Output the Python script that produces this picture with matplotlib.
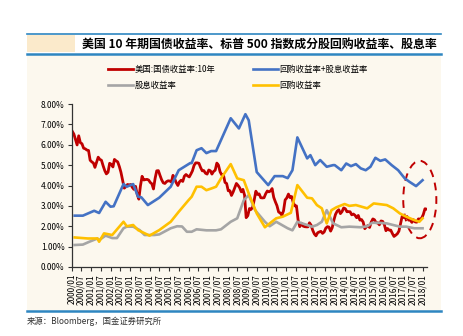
import numpy as np
import pandas as pd
import matplotlib
matplotlib.use('Agg')
import matplotlib.pyplot as plt
import matplotlib.dates as mdates
from matplotlib.patches import Rectangle, Ellipse
from matplotlib.lines import Line2D

plt.rcParams['font.family'] = ['Noto Sans CJK SC', 'DejaVu Sans']

# US 10y treasury yield, monthly, 2000/01 - 2018/03
treasury = [
    6.66, 6.52, 6.26, 5.99, 6.44, 6.10, 6.05, 5.83, 5.80, 5.74, 5.72, 5.24,
    5.16, 5.10, 4.89, 5.14, 5.39, 5.28, 5.24, 4.97, 4.73, 4.57, 4.65, 5.09,
    5.04, 4.91, 5.28, 5.21, 5.16, 4.93, 4.65, 4.26, 3.87, 3.94, 4.05, 4.03,
    4.05, 3.90, 3.81, 3.96, 3.57, 3.33, 3.98, 4.45, 4.27, 4.29, 4.30, 4.27,
    4.15, 4.08, 3.83, 4.35, 4.72, 4.73, 4.50, 4.28, 4.13, 4.10, 4.19, 4.23,
    4.22, 4.17, 4.50, 4.34, 4.14, 4.00, 4.18, 4.26, 4.20, 4.46, 4.54, 4.47,
    4.42, 4.57, 4.72, 4.99, 5.11, 5.11, 5.09, 4.88, 4.72, 4.73, 4.60, 4.56,
    4.76, 4.72, 4.56, 4.69, 4.75, 5.10, 5.00, 4.67, 4.52, 4.53, 4.15, 4.10,
    3.74, 3.74, 3.51, 3.68, 3.88, 4.10, 4.01, 3.89, 3.69, 3.81, 3.53, 2.42,
    2.52, 2.87, 2.82, 2.93, 3.29, 3.72, 3.56, 3.59, 3.40, 3.39, 3.40, 3.59,
    3.73, 3.69, 3.73, 3.85, 3.42, 3.20, 3.01, 2.70, 2.65, 2.54, 2.76, 3.29,
    3.39, 3.58, 3.41, 3.46, 3.17, 3.00, 3.00, 2.30, 1.98, 2.15, 2.01, 1.98,
    1.97, 1.97, 2.17, 2.05, 1.80, 1.62, 1.53, 1.68, 1.72, 1.75, 1.65, 1.72,
    1.91, 1.98, 1.96, 1.76, 1.93, 2.30, 2.58, 2.74, 2.81, 2.62, 2.72, 2.90,
    2.86, 2.71, 2.72, 2.71, 2.56, 2.60, 2.54, 2.42, 2.53, 2.30, 2.33, 2.21,
    1.88, 1.98, 2.04, 1.94, 2.20, 2.36, 2.32, 2.17, 2.17, 2.07, 2.26, 2.24,
    2.09, 1.78, 1.89, 1.81, 1.81, 1.64, 1.50, 1.56, 1.63, 1.76, 2.14, 2.49,
    2.43, 2.42, 2.48, 2.30, 2.30, 2.19, 2.32, 2.21, 2.20, 2.36, 2.35, 2.40,
    2.58, 2.86, 2.84,
]

# buyback + dividend yield
total_dates = ['2000-03', '2000-08', '2001-03', '2001-06', '2001-10', '2002-01',
               '2002-03', '2002-09', '2002-11', '2003-03', '2003-06', '2003-08',
               '2003-12', '2004-07', '2005-02', '2005-07', '2006-02', '2006-03',
               '2006-06', '2006-09', '2006-12', '2007-03', '2007-06', '2008-03',
               '2008-08', '2008-12', '2009-02', '2009-07', '2010-02', '2010-06',
               '2010-11', '2011-02', '2011-05', '2011-08', '2012-02', '2012-04',
               '2012-07', '2012-10', '2013-02', '2013-06', '2013-07', '2013-11',
               '2014-02', '2014-05', '2014-08', '2014-11', '2015-02', '2015-05',
               '2015-08', '2015-11', '2016-02', '2016-06', '2016-10', '2017-02',
               '2017-05', '2017-09', '2018-01']
total = [2.52, 2.52, 2.76, 2.65, 3.20, 2.96,
         2.98, 4.07, 3.94, 4.07, 3.45, 3.42,
         3.04, 3.40, 3.94, 4.75, 5.10, 5.10,
         5.73, 5.83, 5.59, 5.69, 5.69, 7.30,
         6.80, 7.50, 7.20, 4.66, 4.02, 4.46,
         4.46, 4.36, 4.75, 6.36, 5.33, 5.49,
         5.00, 5.25, 4.92, 5.00, 5.00, 4.75,
         5.08, 4.95, 5.05, 4.84, 4.75, 4.92,
         5.36, 5.21, 5.28, 5.00, 4.75, 4.35,
         4.18, 3.97, 4.26]

# dividend yield
div_dates = ['2000-03', '2000-08', '2000-12', '2001-05', '2001-06', '2001-10',
             '2002-02', '2002-05', '2002-09', '2002-11', '2003-03', '2003-07',
             '2003-10', '2004-04', '2004-07', '2005-02', '2005-06', '2005-09',
             '2005-12', '2006-03', '2006-06', '2006-12', '2007-06', '2007-09',
             '2008-03', '2008-07', '2008-11', '2009-02', '2009-06', '2009-12',
             '2010-03', '2010-07', '2011-02', '2011-05', '2011-08', '2012-02',
             '2012-05', '2012-08', '2012-11', '2013-02', '2013-04', '2013-06',
             '2013-11', '2014-04', '2014-11', '2015-03', '2015-06', '2015-10',
             '2016-03', '2016-07', '2016-11', '2017-03', '2017-08', '2018-01']
dividend = [1.08, 1.10, 1.24, 1.40, 1.32, 1.54,
            1.42, 1.42, 1.90, 1.98, 1.98, 1.81,
            1.57, 1.57, 1.60, 1.90, 2.00, 1.99,
            1.73, 1.73, 1.85, 1.80, 1.80, 1.85,
            2.22, 2.39, 3.28, 3.53, 2.79, 2.22,
            2.00, 2.22, 1.90, 1.80, 2.22, 2.06,
            1.98, 2.06, 2.22, 2.79, 2.47, 2.14,
            1.95, 1.98, 1.95, 2.00, 2.17, 2.17,
            2.14, 2.06, 1.98, 1.98, 1.90, 1.90]

# buyback yield
bb_dates = ['2000-03', '2000-11', '2001-05', '2001-06', '2001-09', '2002-02',
            '2002-09', '2002-11', '2003-03', '2003-06', '2004-01', '2004-07',
            '2005-02', '2005-07', '2006-01', '2006-03', '2006-06', '2006-09',
            '2006-12', '2007-03', '2007-06', '2007-09', '2008-03', '2008-07',
            '2008-11', '2009-02', '2009-07', '2009-12', '2010-03', '2010-07',
            '2010-11', '2011-04', '2011-08', '2012-02', '2012-05', '2012-08',
            '2012-11', '2013-02', '2013-05', '2013-08', '2014-01', '2014-04',
            '2014-08', '2015-03', '2015-07', '2016-03', '2016-07', '2016-11',
            '2017-03', '2017-08', '2017-11', '2018-01']
buyback = [1.45, 1.40, 1.40, 1.24, 1.65, 1.57,
           2.22, 2.00, 2.06, 1.81, 1.54, 1.81,
           2.22, 2.71, 3.28, 3.45, 3.94, 3.94,
           3.77, 3.85, 3.94, 4.35, 5.05, 4.35,
           4.26, 3.61, 2.63, 1.95, 2.14, 2.39,
           2.47, 2.66, 4.02, 3.40, 3.37, 3.04,
           2.88, 2.14, 2.79, 2.93, 3.09, 3.00,
           3.04, 2.88, 3.12, 3.04, 2.88, 2.63,
           2.47, 2.30, 2.22, 2.39]

labels = ['美国:国债收益率:10年', '回购收益率+股息收益率', '股息收益率', '回购收益率']
colors = ['#C00000', '#4472C4', '#A5A5A5', '#FFC000']

W, H = 464, 336
fig = plt.figure(figsize=(W / 100, H / 100), dpi=100)
fig.patch.set_facecolor('white')

def fx(px):
    return px / W

def fy(py):
    return 1 - py / H

# panel background, title banner, blue rules
fig.patches.append(Rectangle((fx(27), fy(311)), fx(441) - fx(27), fy(54) - fy(311),
                             transform=fig.transFigure, facecolor='#FCF8EE',
                             edgecolor='none', zorder=-5))
fig.patches.append(Rectangle((fx(27), fy(52)), fx(75) - fx(27), fy(35) - fy(52),
                             transform=fig.transFigure, facecolor='#FBEACB',
                             edgecolor='none', zorder=-5))
for yy, lw in [(34, 1.2), (53.5, 1.8), (311, 1.8)]:
    fig.lines.append(Line2D([fx(27), fx(441)], [fy(yy), fy(yy)],
                            transform=fig.transFigure, color='#2E86C1', lw=lw,
                            zorder=-4))

fig.text(fx(437), fy(44), '美国 10 年期国债收益率、标普 500 指数成分股回购收益率、股息率',
         ha='right', va='center', fontsize=8.6, fontweight='bold')
fig.text(fx(27), fy(321), '来源：Bloomberg，国金证券研究所', ha='left', va='center',
         fontsize=6, color='#333333')

ax = fig.add_axes([fx(71.5), fy(267), fx(427) - fx(71.5), fy(104) - fy(267)])
ax.set_facecolor('none')

red_x = pd.date_range('2000-01-01', periods=len(treasury), freq='MS') + pd.Timedelta(days=14)
l_red, = ax.plot(red_x, treasury, color=colors[0], lw=2.0)
l_blue, = ax.plot(pd.to_datetime(total_dates), total, color=colors[1], lw=1.9)
l_gray, = ax.plot(pd.to_datetime(div_dates), dividend, color=colors[2], lw=1.9)
l_yel, = ax.plot(pd.to_datetime(bb_dates), buyback, color=colors[3], lw=1.9)

ell_c = mdates.date2num(pd.Timestamp('2017-11-10'))
ax.add_patch(Ellipse((ell_c, 3.31), width=620, height=3.8, fill=False,
                     edgecolor='#C00000', lw=1.4, ls=(0, (4, 3)), clip_on=False))

ax.set_ylim(0, 8)
ax.set_yticks(np.arange(0, 9, 1))
ax.set_yticklabels(['%.2f%%' % v for v in range(9)], fontsize=6)
ax.set_xlim(pd.Timestamp('2000-01-01'), pd.Timestamp('2018-03-25'))
ticks = pd.date_range('2000-01-01', '2018-01-01', freq='6MS')
ax.set_xticks(ticks)
ax.set_xticklabels([t.strftime('%Y/%m') for t in ticks], rotation=90, fontsize=6)
ax.tick_params(axis='both', length=3, width=0.8, color='#333333', pad=2)
for s in ['top', 'right']:
    ax.spines[s].set_visible(False)
for s in ['left', 'bottom']:
    ax.spines[s].set_color('#333333')
    ax.spines[s].set_linewidth(0.9)

# legend filled column-wise: red/gray in column 1, blue/yellow in column 2
fig.legend([l_red, l_gray, l_blue, l_yel],
           [labels[0], labels[2], labels[1], labels[3]],
           loc='center', bbox_to_anchor=(fx(238), fy(77.5)), ncol=2, frameon=False,
           handlelength=3.0, handletextpad=0.2, columnspacing=4.5,
           labelspacing=0.9, prop={'size': 6})

fig.savefig('out.png', dpi=100)
